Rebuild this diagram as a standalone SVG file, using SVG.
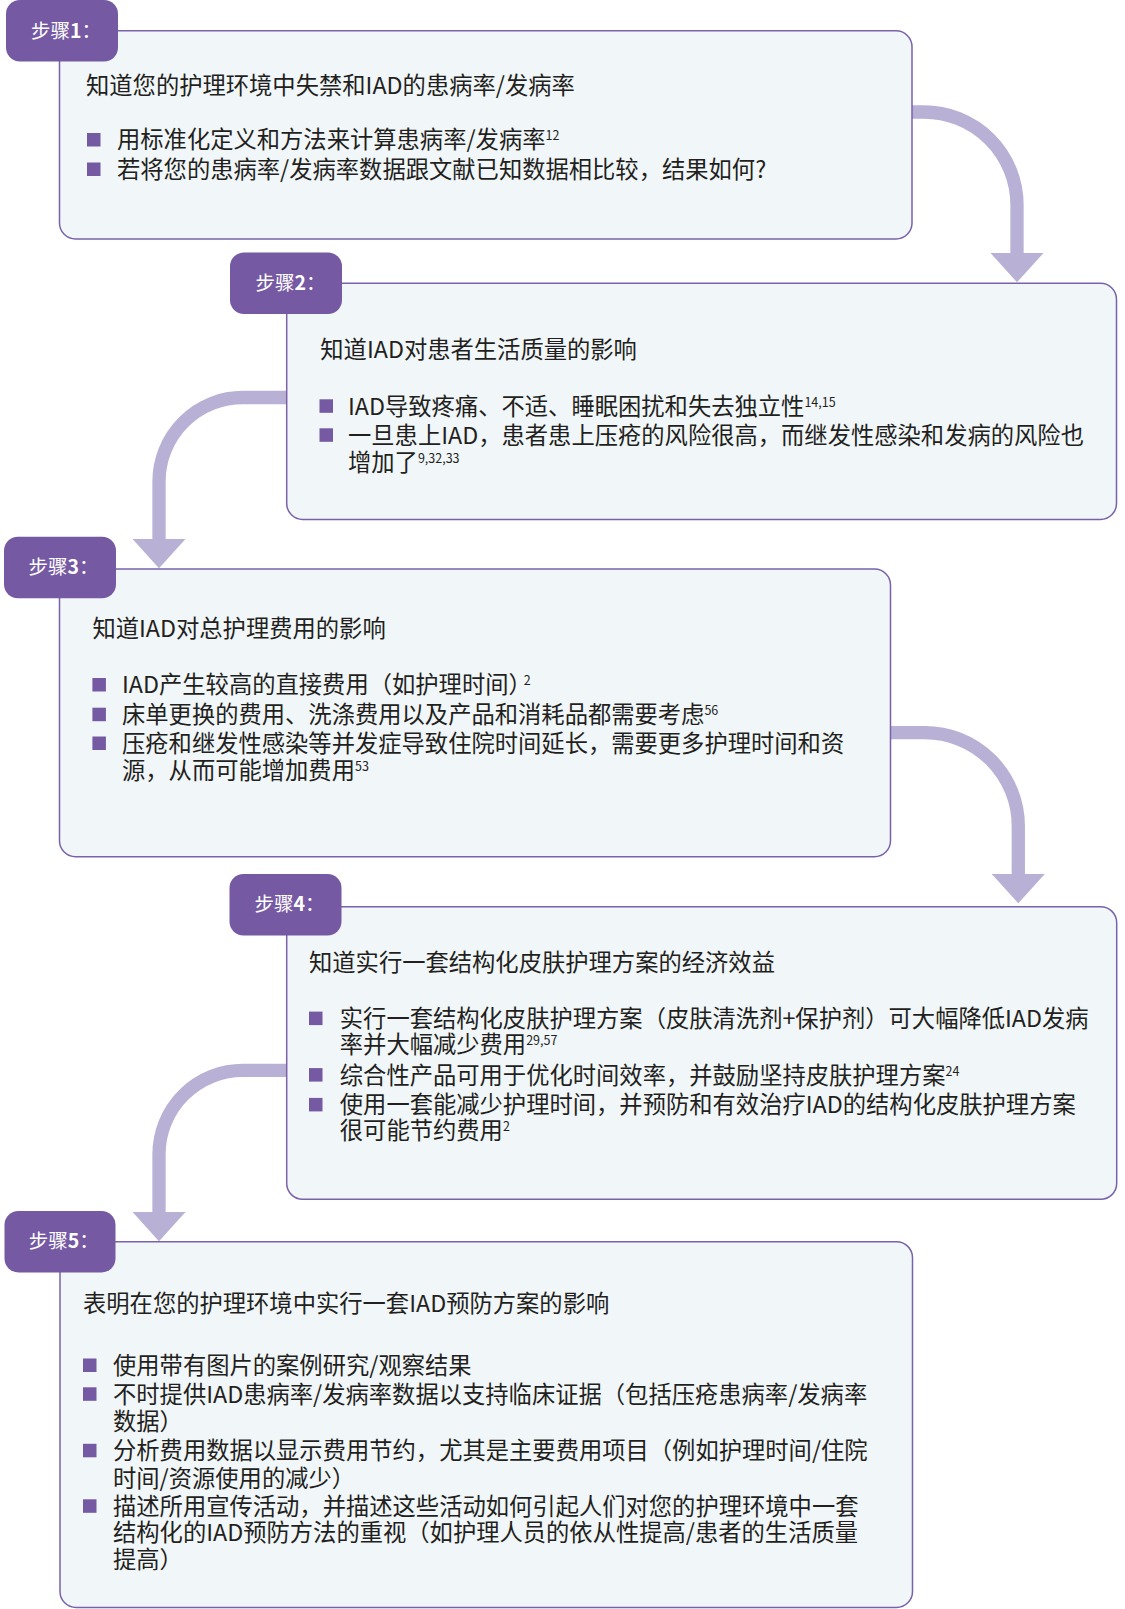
<svg xmlns="http://www.w3.org/2000/svg" width="1125" height="1609" viewBox="0 0 1125 1609">
<style>
.box{fill:#f1f6f9;stroke:#7a62aa;stroke-width:1.5}
.tab{fill:#7559a2}
.tabtxt{font-family:"Noto Sans CJK SC","Noto Sans",sans-serif;font-size:19.5px;fill:#ffffff}
.t{font-family:"Noto Sans CJK SC","Noto Sans",sans-serif;font-size:23.3px;fill:#231f20}
.sup{font-size:12.5px}
.bul{fill:#7559a2}
.conn{fill:none;stroke:#b9b0d5;stroke-width:13.3}
</style>
<defs>
<marker id="ah" markerUnits="userSpaceOnUse" viewBox="0 0 29.3 53" refX="1" refY="26.5" markerWidth="29.3" markerHeight="53" orient="auto">
<path d="M0,0 L29.3,26.5 L0,53 Z" fill="#b9b0d5"/>
</marker>
</defs>
<g id="connectors">
<path class="conn" marker-end="url(#ah)" d="M 910 112 L 924 112 A 93 93 0 0 1 1017 205 L 1017 254"/>
<path class="conn" marker-end="url(#ah)" d="M 289 397.5 L 243 397.5 A 84 84 0 0 0 159 481.5 L 159 540"/>
<path class="conn" marker-end="url(#ah)" d="M 888 732.7 L 925 732.7 A 93.3 93.3 0 0 1 1018.3 826 L 1018.3 875"/>
<path class="conn" marker-end="url(#ah)" d="M 289 1070.3 L 243 1070.3 A 84 84 0 0 0 159 1154.3 L 159 1213"/>
</g>
<g id="step1">
<rect class="box" x="59.5" y="30.8" width="852.5" height="208.2" rx="16"/>
<rect class="tab" x="6" y="0" width="112" height="61.6" rx="14"/>
<text class="tabtxt" x="31" y="37.5">步骤<tspan font-weight="bold">1</tspan>：</text>
<text class="t" x="86" y="94">知道您的护理环境中失禁和IAD的患病率/发病率</text>
<rect class="bul" x="87" y="133" width="13.5" height="13.5"/>
<text class="t" x="117" y="148">用标准化定义和方法来计算患病率/发病率<tspan class="sup" dy="-8">12</tspan></text>
<rect class="bul" x="87" y="162.5" width="13.5" height="13.5"/>
<text class="t" x="117" y="177.5">若将您的患病率/发病率数据跟文献已知数据相比较，结果如何?</text>
</g>
<g id="step2">
<rect class="box" x="286.7" y="283.3" width="829.8" height="236.2" rx="16"/>
<rect class="tab" x="230" y="252.5" width="112" height="61.6" rx="14"/>
<text class="tabtxt" x="255.5" y="290">步骤<tspan font-weight="bold">2</tspan>：</text>
<text class="t" x="320.3" y="358">知道IAD对患者生活质量的影响</text>
<rect class="bul" x="319.5" y="399.3" width="13.5" height="13.5"/>
<text class="t" x="348" y="414.7">IAD导致疼痛、不适、睡眠困扰和失去独立性<tspan class="sup" dy="-8">14,15</tspan></text>
<rect class="bul" x="319.5" y="428.3" width="13.5" height="13.5"/>
<text class="t" x="348" y="443.7">一旦患上IAD，患者患上压疮的风险很高，而继发性感染和发病的风险也</text>
<text class="t" x="348" y="470.7">增加了<tspan class="sup" dy="-8">9,32,33</tspan></text>
</g>
<g id="step3">
<rect class="box" x="59.5" y="569" width="831" height="287.7" rx="16"/>
<rect class="tab" x="4" y="536.7" width="112" height="61.6" rx="14"/>
<text class="tabtxt" x="28.5" y="574">步骤<tspan font-weight="bold">3</tspan>：</text>
<text class="t" x="92.4" y="637">知道IAD对总护理费用的影响</text>
<rect class="bul" x="92.4" y="678" width="13.5" height="13.5"/>
<text class="t" x="122" y="693.4">IAD产生较高的直接费用（如护理时间）<tspan class="sup" dx="-8" dy="-8">2</tspan></text>
<rect class="bul" x="92.4" y="707.7" width="13.5" height="13.5"/>
<text class="t" x="122" y="723.1">床单更换的费用、洗涤费用以及产品和消耗品都需要考虑<tspan class="sup" dy="-8">56</tspan></text>
<rect class="bul" x="92.4" y="736.5" width="13.5" height="13.5"/>
<text class="t" x="122" y="751.9">压疮和继发性感染等并发症导致住院时间延长，需要更多护理时间和资</text>
<text class="t" x="122" y="778.6">源，从而可能增加费用<tspan class="sup" dy="-8">53</tspan></text>
</g>
<g id="step4">
<rect class="box" x="286.7" y="906.7" width="830" height="292.6" rx="16"/>
<rect class="tab" x="229.5" y="874" width="112" height="61.6" rx="14"/>
<text class="tabtxt" x="254.5" y="911">步骤<tspan font-weight="bold">4</tspan>：</text>
<text class="t" x="309" y="970.5">知道实行一套结构化皮肤护理方案的经济效益</text>
<rect class="bul" x="309" y="1011.6" width="13.5" height="13.5"/>
<text class="t" x="339.8" y="1027">实行一套结构化皮肤护理方案（皮肤清洗剂+保护剂）可大幅降低IAD发病</text>
<text class="t" x="339.8" y="1052.7">率并大幅减少费用<tspan class="sup" dy="-8">29,57</tspan></text>
<rect class="bul" x="309" y="1068.1" width="13.5" height="13.5"/>
<text class="t" x="339.8" y="1083.5">综合性产品可用于优化时间效率，并鼓励坚持皮肤护理方案<tspan class="sup" dy="-8">24</tspan></text>
<rect class="bul" x="309" y="1097.9" width="13.5" height="13.5"/>
<text class="t" x="339.8" y="1113.3">使用一套能减少护理时间，并预防和有效治疗IAD的结构化皮肤护理方案</text>
<text class="t" x="339.8" y="1138.9">很可能节约费用<tspan class="sup" dy="-8">2</tspan></text>
</g>
<g id="step5">
<rect class="box" x="60" y="1241.7" width="852.5" height="365.8" rx="16"/>
<rect class="tab" x="4.5" y="1210.9" width="111" height="61.6" rx="14"/>
<text class="tabtxt" x="28.7" y="1248">步骤<tspan font-weight="bold">5</tspan>：</text>
<text class="t" x="83" y="1312.4">表明在您的护理环境中实行一套IAD预防方案的影响</text>
<rect class="bul" x="83" y="1358.5" width="13.5" height="13.5"/>
<text class="t" x="113" y="1373.9">使用带有图片的案例研究/观察结果</text>
<rect class="bul" x="83" y="1387.3" width="13.5" height="13.5"/>
<text class="t" x="113" y="1402.7">不时提供IAD患病率/发病率数据以支持临床证据（包括压疮患病率/发病率</text>
<text class="t" x="113" y="1430.4">数据）</text>
<rect class="bul" x="83" y="1443.8" width="13.5" height="13.5"/>
<text class="t" x="113" y="1459.2">分析费用数据以显示费用节约，尤其是主要费用项目（例如护理时间/住院</text>
<text class="t" x="113" y="1486.9">时间/资源使用的减少）</text>
<rect class="bul" x="83" y="1499.3" width="13.5" height="13.5"/>
<text class="t" x="113" y="1514.7">描述所用宣传活动，并描述这些活动如何引起人们对您的护理环境中一套</text>
<text class="t" x="113" y="1541.3">结构化的IAD预防方法的重视（如护理人员的依从性提高/患者的生活质量</text>
<text class="t" x="113" y="1568">提高）</text>
</g>
</svg>
